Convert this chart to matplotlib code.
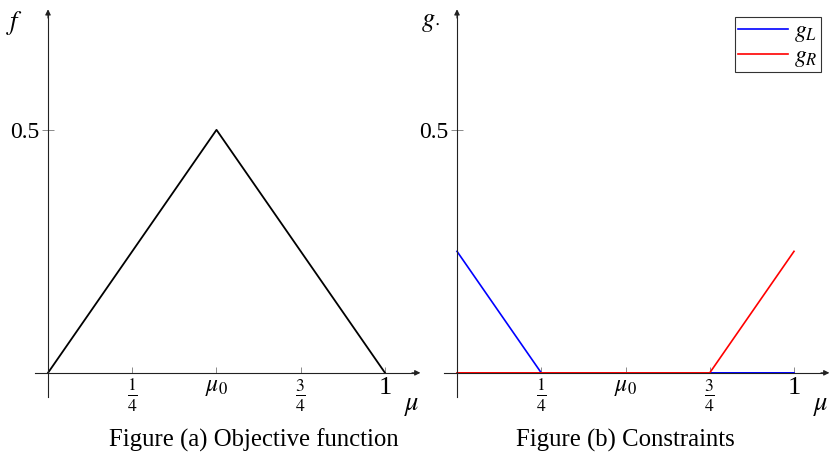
import matplotlib
matplotlib.use('Agg')
import matplotlib.pyplot as plt

plt.rcParams['font.family'] = ['Liberation Serif', 'DejaVu Serif']
plt.rcParams['mathtext.fontset'] = 'stix'

# data
mu_f = [0, 0.5, 1]
f_vals = [0, 0.5, 0]
mu_g = [0, 0.25, 0.5, 0.75, 1]
gL = [0.25, 0, 0, 0, 0]
gR = [0, 0, 0, 0, 0.25]
xtick_pos = [0.25, 0.5, 0.75, 1]
xtick_lbl = [r'$\frac{1}{4}$', r'$\mu_0$', r'$\frac{3}{4}$', '1']
ytick_pos = [0.5]
ytick_lbl = ['0.5']

W, H = 830, 459
fig = plt.figure(figsize=(W / 100, H / 100), dpi=100)

def make_axes(x0px):
    # x: -0.05..1.12, y: -0.06..0.76 ; 337 px per x unit, 486 px per y unit
    left = x0px - 0.05 * 337
    ax = fig.add_axes([left / W, (H - 402) / H, 1.17 * 337 / W, 0.82 * 486 / H])
    ax.set_xlim(-0.05, 1.12)
    ax.set_ylim(-0.06, 0.76)
    for s in ['top', 'right']:
        ax.spines[s].set_visible(False)
    ax.spines['left'].set_position(('data', 0))
    ax.spines['bottom'].set_position(('data', 0))
    ax.spines['left'].set_bounds(-0.05, 0.745)
    ax.spines['bottom'].set_bounds(-0.04, 1.09)
    for s in ['left', 'bottom']:
        ax.spines[s].set_linewidth(0.8)
        ax.spines[s].set_color('#222222')
    ax.annotate('', xy=(1.105, 0), xytext=(1.08, 0),
                arrowprops=dict(arrowstyle='-|>', color='#222222', lw=0.8,
                                mutation_scale=8, shrinkA=0, shrinkB=0))
    ax.annotate('', xy=(0, 0.748), xytext=(0, 0.73),
                arrowprops=dict(arrowstyle='-|>', color='#222222', lw=0.8,
                                mutation_scale=8, shrinkA=0, shrinkB=0))
    ax.set_xticks(xtick_pos)
    ax.set_xticklabels(xtick_lbl, fontsize=18)
    ax.get_xticklabels()[3].set_fontsize(19)
    ax.get_xticklabels()[1].set_fontsize(17)
    ax.set_yticks(ytick_pos)
    ax.set_yticklabels(ytick_lbl, fontsize=17)
    ax.tick_params(axis='x', direction='in', length=4, width=0.6, color='#777777', pad=3)
    ax.tick_params(axis='y', direction='inout', length=8, width=0.6, color='#777777', pad=2)
    ax.patch.set_visible(False)
    return ax

ax1 = make_axes(48)
ax1.plot(mu_f, f_vals, color='black', lw=1.3, clip_on=False)
ax1.text(-0.1, 0.72, r'$f$', fontsize=19, ha='center', va='center')
ax1.text(1.08, -0.07, r'$\mu$', fontsize=19, ha='center', va='center')
fig.text(254 / W, 1 - 440 / H, 'Figure (a) Objective function', fontsize=17.8,
         ha='center', va='center')

ax2 = make_axes(457)
ax2.plot(mu_g, gL, color='blue', lw=1.2, label=r'$g_L$', clip_on=False)
ax2.plot(mu_g, gR, color='red', lw=1.2, label=r'$g_R$', clip_on=False)
ax2.text(-0.08, 0.72, r'$g_{\cdot}$', fontsize=19, ha='center', va='center')
ax2.text(1.08, -0.07, r'$\mu$', fontsize=19, ha='center', va='center')
leg = ax2.legend(loc='upper right', bbox_to_anchor=(821 / W, 1 - 17 / H),
                 bbox_transform=fig.transFigure, fontsize=17, frameon=True,
                 fancybox=False, edgecolor='black', handlelength=2.1,
                 handletextpad=0.25, borderpad=0.15, labelspacing=0.05,
                 borderaxespad=0)
leg.get_frame().set_linewidth(0.8)
fig.text(625 / W, 1 - 440 / H, 'Figure (b) Constraints', fontsize=17.8,
         ha='center', va='center')

fig.savefig('out.png', dpi=100)
